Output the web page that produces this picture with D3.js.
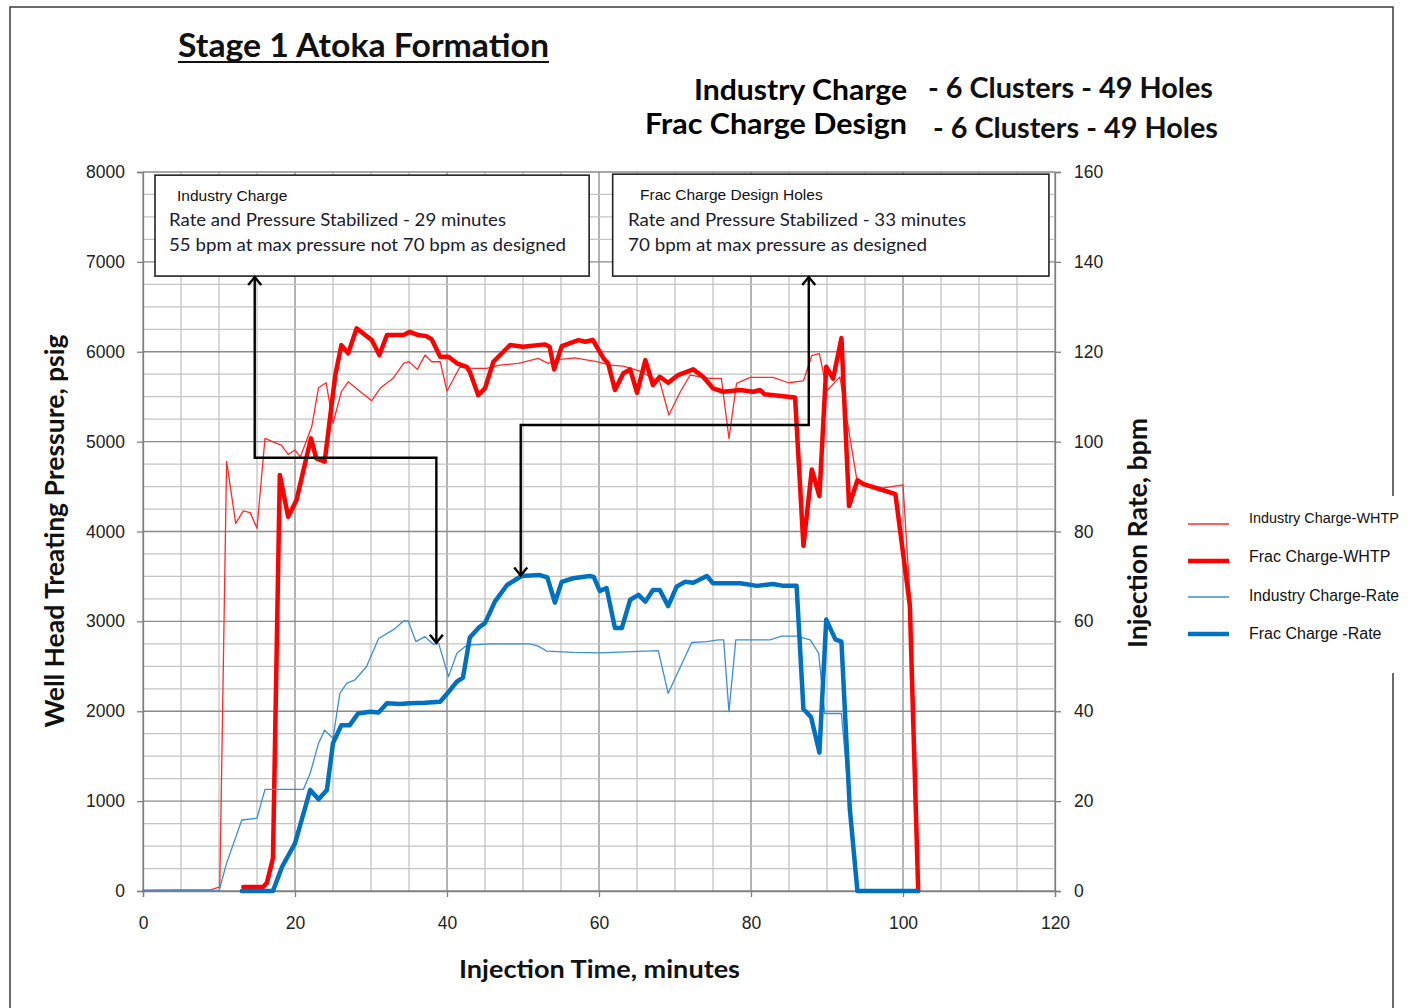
<!DOCTYPE html>
<html>
<head>
<meta charset="utf-8">
<script src="https://cdn.jsdelivr.net/npm/d3@7"></script>
<style>
  body { margin: 0; background: #fff; }
  svg { display: block; }
</style>
</head>
<body>
<svg id="chart" width="1413" height="1008"></svg>
<script>
// ---- Series: [minutes, value] ----
const industryWhtp = [
  [0,10],[9,15],[9.9,40],[10.1,40],[11.0,4780],[12.2,4090],[13.2,4230],[14.1,4210],[15.0,4035],
  [16.05,5036],[17.6,4980],[18.2,4960],[19.1,4858],[20.0,4906],[20.7,4830],[22.2,5165],[23.1,5600],
  [24.1,5655],[25.0,5203],[26.1,5555],[27.0,5666],[28.6,5555],[30.1,5455],[31.2,5593],[32.9,5704],
  [34.3,5871],[35.0,5889],[36.1,5804],[37.1,5963],[38.0,5889],[39.1,5889],[40.0,5563],[41.7,5830],
  [43.5,5815],[45.2,5815],[47.0,5852],[49.4,5871],[52.0,5926],[53.3,5871],[54.9,5915],[56.8,5933],
  [59.7,5889],[61.4,5852],[63.2,5840],[65.4,5785],[68.0,5666],[69.2,5296],[70.7,5555],[72.0,5741],
  [74.6,5704],[76.1,5704],[77.1,5036],[78.1,5648],[79.9,5715],[82.9,5715],[84.9,5655],[86.9,5677],
  [88.0,5956],[89.0,5978],[90.0,5566],[91.7,5721],[93.9,4592],[94.8,4527],[97.0,4480],[100.0,4519],
  [100.7,3567],[101.1,3100]
];

const fracWhtp = [
  [13.2,45],[15.8,45],[16.3,90],[17.1,364],[18.0,4628],[19.1,4164],[20.2,4350],[21.1,4680],[22.1,5036],
  [22.8,4814],[23.9,4776],[25.3,5740],[26.1,6074],[27.0,5982],[28.1,6260],[30.1,6130],[31.1,5963],
  [32.1,6186],[34.3,6186],[35.1,6222],[36.2,6186],[37.3,6174],[38.0,6137],[39.1,5944],[40.2,5944],
  [41.3,5871],[42.6,5833],[43.0,5777],[44.1,5518],[45.0,5593],[46.1,5889],[48.3,6074],[50.0,6056],
  [52.9,6082],[53.5,6056],[54.1,5804],[55.1,6063],[57.3,6130],[58.2,6111],[59.2,6130],[60.6,5926],
  [61.2,5871],[62.1,5574],[63.2,5760],[64.1,5804],[65.0,5544],[66.1,5907],[67.1,5630],[68.0,5722],
  [69.1,5655],[70.4,5741],[72.4,5804],[73.7,5722],[75.0,5593],[76.4,5555],[78.6,5574],[80.3,5555],
  [81.2,5574],[81.8,5526],[85.8,5490],[86.9,3840],[88.0,4690],[89.0,4393],[89.9,5833],[90.8,5700],
  [91.9,6152],[92.9,4283],[94.0,4570],[94.8,4527],[97.0,4470],[99.0,4416],[100.9,3176],[102.0,0]
];

const industryRate = [
  [0,0],[10.0,0],[11.0,6.2],[13.0,15.8],[15.0,16.2],[16.05,22.6],[21.1,22.6],[22.0,26.2],[23.1,32.9],
  [23.9,35.8],[25.0,34.0],[25.9,44.0],[26.8,46.2],[27.9,47.0],[29.4,49.9],[31.0,56.2],[32.9,58.1],
  [34.3,60.1],[34.9,60.1],[35.9,55.5],[37.1,56.6],[38.2,54.9],[38.9,55.1],[40.2,47.7],[41.3,52.9],
  [42.6,54.7],[45.7,55.0],[50.9,55.0],[52.0,54.5],[53.1,53.4],[56.6,53.1],[60.1,53.0],[67.8,53.5],
  [69.1,44.0],[72.2,55.3],[74.2,55.5],[75.7,55.9],[76.4,55.9],[77.1,39.9],[78.0,55.9],[82.5,55.9],
  [84.0,56.7],[86.0,56.7],[87.8,55.9],[88.9,52.9],[89.7,39.5],[91.9,39.5],[93.0,18.3],[94.0,0]
];

const fracRate = [
  [13.0,0],[17.1,0],[18.3,5.4],[20.0,10.6],[22.0,22.5],[23.1,20.4],[24.2,22.5],[25.0,32.9],[26.1,36.9],
  [27.2,36.9],[28.3,39.5],[29.9,39.9],[31.0,39.7],[32.1,41.8],[33.8,41.6],[35.1,41.8],[37.1,41.9],
  [39.1,42.1],[40.2,44.3],[41.3,46.6],[42.1,47.5],[43.0,56.4],[44.3,58.8],[45.0,59.6],[46.3,64.4],
  [47.9,68.1],[49.8,70.1],[52.2,70.3],[53.2,69.8],[54.2,64.2],[55.1,68.8],[56.6,69.6],[58.8,70.1],
  [59.3,69.9],[60.1,66.8],[61.0,67.4],[62.1,58.5],[63.0,58.5],[64.1,64.8],[65.2,65.9],[66.1,64.4],
  [67.1,67.0],[68.0,67.0],[69.1,63.4],[70.2,67.7],[71.3,68.8],[72.4,68.6],[74.2,70.1],[75.0,68.5],
  [78.6,68.5],[80.8,67.9],[82.9,68.3],[84.3,67.9],[86.0,67.9],[86.9,40.5],[87.9,38.7],[89.0,30.8],
  [89.9,60.4],[91.1,56.0],[91.9,55.5],[93.0,18.3],[94.0,0],[102.0,0]
];

// ---- Axis ticks ----
const timeTicks = [0, 20, 40, 60, 80, 100, 120];
const pressureTicks = [0, 1000, 2000, 3000, 4000, 5000, 6000, 7000, 8000];
const rateTicks = [0, 20, 40, 60, 80, 100, 120, 140, 160];

// ---- Legend ----
const legendNames = ["Industry Charge-WHTP", "Frac Charge-WHTP", "Industry Charge-Rate", "Frac Charge -Rate"];

// ---- Annotation text ----
const headerTitle = "Stage 1 Atoka Formation";
const headerRows = [
  ["Industry Charge", "- 6 Clusters - 49 Holes"],
  ["Frac Charge Design", "- 6 Clusters - 49 Holes"]
];
const noteIndustry = ["Industry Charge", "Rate and Pressure Stabilized  - 29 minutes", "55 bpm at max  pressure not 70 bpm as designed"];
const noteFrac = ["Frac Charge Design Holes", "Rate and Pressure Stabilized  - 33 minutes", "70 bpm at max  pressure as designed"];
// callout arrows: [start minute, corner psig, end minute, end rate bpm]
const calloutIndustry = { tStart: 14.7, pCorner: 4820, tEnd: 38.6, rateEnd: 55 };
const calloutFrac = { tStart: 87.6, pCorner: 5185, tEnd: 49.7, rateEnd: 70 };

// ---- Layout ----
const svg = d3.select("#chart");
const x = d3.scaleLinear().domain([0, 120]).range([143, 1055]);
const yP = d3.scaleLinear().domain([0, 8000]).range([891, 172]);
const yR = d3.scaleLinear().domain([0, 160]).range([891, 172]);

const sans = "'Liberation Sans', Arial, sans-serif";
const cal = "Lato, 'Open Sans', sans-serif";

// page frame
svg.append("path")
  .attr("d", "M10,1008 V7 H1393 V1008")
  .attr("fill", "none").attr("stroke", "#3a3a3a").attr("stroke-width", 1.5);

// grid
const grid = svg.append("g");
d3.range(0, 121, 5).forEach(t => {
  const major = t % 20 === 0;
  grid.append("line")
    .attr("x1", x(t)).attr("x2", x(t)).attr("y1", yP(8000)).attr("y2", yP(0))
    .attr("stroke", major ? "#8a8a8a" : "#c4c4c4").attr("stroke-width", 1.3);
});
d3.range(0, 8001, 250).forEach(p => {
  const major = p % 1000 === 0;
  grid.append("line")
    .attr("x1", x(0)).attr("x2", x(120)).attr("y1", yP(p)).attr("y2", yP(p))
    .attr("stroke", major ? "#8a8a8a" : "#c4c4c4").attr("stroke-width", 1.3);
});

// axes
function styleAxis(g) {
  g.selectAll("path.domain").attr("stroke", "#808080").attr("stroke-width", 1.3);
  g.selectAll(".tick line").attr("stroke", "#808080").attr("stroke-width", 1.3);
  g.selectAll(".tick text").attr("font-family", sans).attr("font-size", 17.5).attr("fill", "#222");
}
svg.append("g").attr("transform", `translate(${x(0)},0)`)
  .call(d3.axisLeft(yP).tickValues(pressureTicks).tickFormat(d3.format("d")).tickSizeOuter(0).tickSize(6).tickPadding(12))
  .call(styleAxis);
svg.append("g").attr("transform", `translate(${x(120)},0)`)
  .call(d3.axisRight(yR).tickValues(rateTicks).tickFormat(d3.format("d")).tickSizeOuter(0).tickSize(6).tickPadding(13))
  .call(styleAxis);
svg.append("g").attr("transform", `translate(0,${yP(0)})`)
  .call(d3.axisBottom(x).tickValues(timeTicks).tickFormat(d3.format("d")).tickSizeOuter(0).tickSize(6).tickPadding(20))
  .call(styleAxis);

// series
const lineP = d3.line().x(d => x(d[0])).y(d => yP(d[1]));
const lineR = d3.line().x(d => x(d[0])).y(d => yR(d[1]));
const series = [
  { data: industryWhtp, gen: lineP, color: "#ff2a2a", width: 1.3 },
  { data: fracWhtp, gen: lineP, color: "#ff0000", width: 4.5 },
  { data: industryRate, gen: lineR, color: "#3c8ed4", width: 1.3 },
  { data: fracRate, gen: lineR, color: "#0070c0", width: 4.5 }
];
series.forEach(s => {
  svg.append("path").attr("d", s.gen(s.data))
    .attr("fill", "none").attr("stroke", s.color).attr("stroke-width", s.width)
    .attr("stroke-linejoin", "round").attr("stroke-linecap", "round");
});

// note boxes
function noteBox(t0, t1, pTop, pBot, lines, titleX) {
  const g = svg.append("g");
  g.append("rect")
    .attr("x", x(t0)).attr("y", yP(pTop)).attr("width", x(t1) - x(t0)).attr("height", yP(pBot) - yP(pTop))
    .attr("fill", "#fff").attr("stroke", "#222").attr("stroke-width", 1.6);
  g.append("text").attr("x", titleX).attr("y", yP(pTop) + 26)
    .attr("font-family", sans).attr("font-size", 15.5).attr("fill", "#111").text(lines[0]);
  return g;
}
const b1 = noteBox(1.58, 58.7, 7965, 6842, noteIndustry, 177);
b1.append("text").attr("x", 169).attr("y", 226).attr("font-family", cal).attr("font-size", 17)
  .attr("fill", "#1a1a2e").attr("textLength", 337).attr("lengthAdjust", "spacingAndGlyphs").text(noteIndustry[1]);
b1.append("text").attr("x", 169).attr("y", 251).attr("font-family", cal).attr("font-size", 17)
  .attr("fill", "#1a1a2e").attr("textLength", 397).attr("lengthAdjust", "spacingAndGlyphs").text(noteIndustry[2]);
const b2 = noteBox(61.8, 119.2, 7976, 6842, noteFrac, 640);
b2.select("text").attr("y", 200);
b2.append("text").attr("x", 628).attr("y", 226).attr("font-family", cal).attr("font-size", 17)
  .attr("fill", "#1a1a2e").attr("textLength", 338).attr("lengthAdjust", "spacingAndGlyphs").text(noteFrac[1]);
b2.append("text").attr("x", 628).attr("y", 251).attr("font-family", cal).attr("font-size", 17)
  .attr("fill", "#1a1a2e").attr("textLength", 299).attr("lengthAdjust", "spacingAndGlyphs").text(noteFrac[2]);

// callout arrows
const defs = svg.append("defs");
defs.append("marker").attr("id", "head").attr("viewBox", "-10 -8 12 16")
  .attr("refX", 0).attr("refY", 0).attr("markerWidth", 12).attr("markerHeight", 16)
  .attr("markerUnits", "userSpaceOnUse").attr("orient", "auto-start-reverse")
  .append("path").attr("d", "M-8,-6.5 L0,0 L-8,6.5").attr("fill", "none")
  .attr("stroke", "#000").attr("stroke-width", 2.4);

function callout(c) {
  const boxBottom = 6842;
  const pts = [
    [x(c.tStart), yP(boxBottom) + 1],
    [x(c.tStart), yP(c.pCorner)],
    [x(c.tEnd), yP(c.pCorner)],
    [x(c.tEnd), yR(c.rateEnd) - 1]
  ];
  svg.append("path").attr("d", d3.line()(pts))
    .attr("fill", "none").attr("stroke", "#000").attr("stroke-width", 2.4)
    .attr("marker-start", "url(#head)").attr("marker-end", "url(#head)");
}
callout(calloutIndustry);
callout(calloutFrac);

// titles
svg.append("text").attr("x", 178).attr("y", 57)
  .attr("font-family", cal).attr("font-weight", "bold").attr("font-size", 32).attr("fill", "#111")
  .attr("textLength", 371).attr("lengthAdjust", "spacingAndGlyphs").text(headerTitle);
svg.append("line").attr("x1", 178).attr("x2", 549).attr("y1", 62).attr("y2", 62)
  .attr("stroke", "#111").attr("stroke-width", 2);

const hdr = [
  { label: 907, labelW: 213, y: 100, note: 928, noteY: 98 },
  { label: 907, labelW: 262, y: 134, note: 933, noteY: 138 }
];
headerRows.forEach((r, i) => {
  const h = hdr[i];
  svg.append("text").attr("x", h.label - h.labelW).attr("y", h.y)
    .attr("font-family", cal).attr("font-weight", "bold").attr("font-size", 28).attr("fill", "#000")
    .attr("textLength", h.labelW).attr("lengthAdjust", "spacingAndGlyphs").text(r[0]);
  svg.append("text").attr("x", h.note).attr("y", h.noteY)
    .attr("font-family", cal).attr("font-weight", "bold").attr("font-size", 28).attr("fill", "#111")
    .attr("textLength", 285).attr("lengthAdjust", "spacingAndGlyphs").text(r[1]);
});

svg.append("text").attr("transform", "translate(64,531) rotate(-90)").attr("text-anchor", "middle")
  .attr("font-family", cal).attr("font-weight", "bold").attr("font-size", 26).attr("fill", "#111")
  .attr("textLength", 393).attr("lengthAdjust", "spacingAndGlyphs").text("Well Head Treating Pressure, psig");
svg.append("text").attr("transform", "translate(1147,533) rotate(-90)").attr("text-anchor", "middle")
  .attr("font-family", cal).attr("font-weight", "bold").attr("font-size", 26).attr("fill", "#111")
  .attr("textLength", 230).attr("lengthAdjust", "spacingAndGlyphs").text("Injection Rate, bpm");
svg.append("text").attr("x", 459).attr("y", 978)
  .attr("font-family", cal).attr("font-weight", "bold").attr("font-size", 24).attr("fill", "#111")
  .attr("textLength", 281).attr("lengthAdjust", "spacingAndGlyphs").text("Injection Time, minutes");

// legend
const leg = svg.append("g");
leg.append("rect").attr("x", 1180).attr("y", 496).attr("width", 240).attr("height", 177).attr("fill", "#fff");
const legY = [524, 561, 597, 634];
const legTextY = [523, 562, 601, 639];
const legMaxW = 150;
legendNames.forEach((name, i) => {
  const s = series[i];
  leg.append("line").attr("x1", 1188).attr("x2", 1229).attr("y1", legY[i]).attr("y2", legY[i])
    .attr("stroke", s.color).attr("stroke-width", s.width);
  const t = leg.append("text").attr("x", 1249).attr("y", legTextY[i])
    .attr("font-family", sans).attr("font-size", 16).attr("fill", "#111").text(name);
  // shrink the longest entry so it stays inside the page width
  const w = t.node().getComputedTextLength();
  if (w > legMaxW) t.attr("font-size", (16 * legMaxW / w).toFixed(2));
});
</script>
</body>
</html>
